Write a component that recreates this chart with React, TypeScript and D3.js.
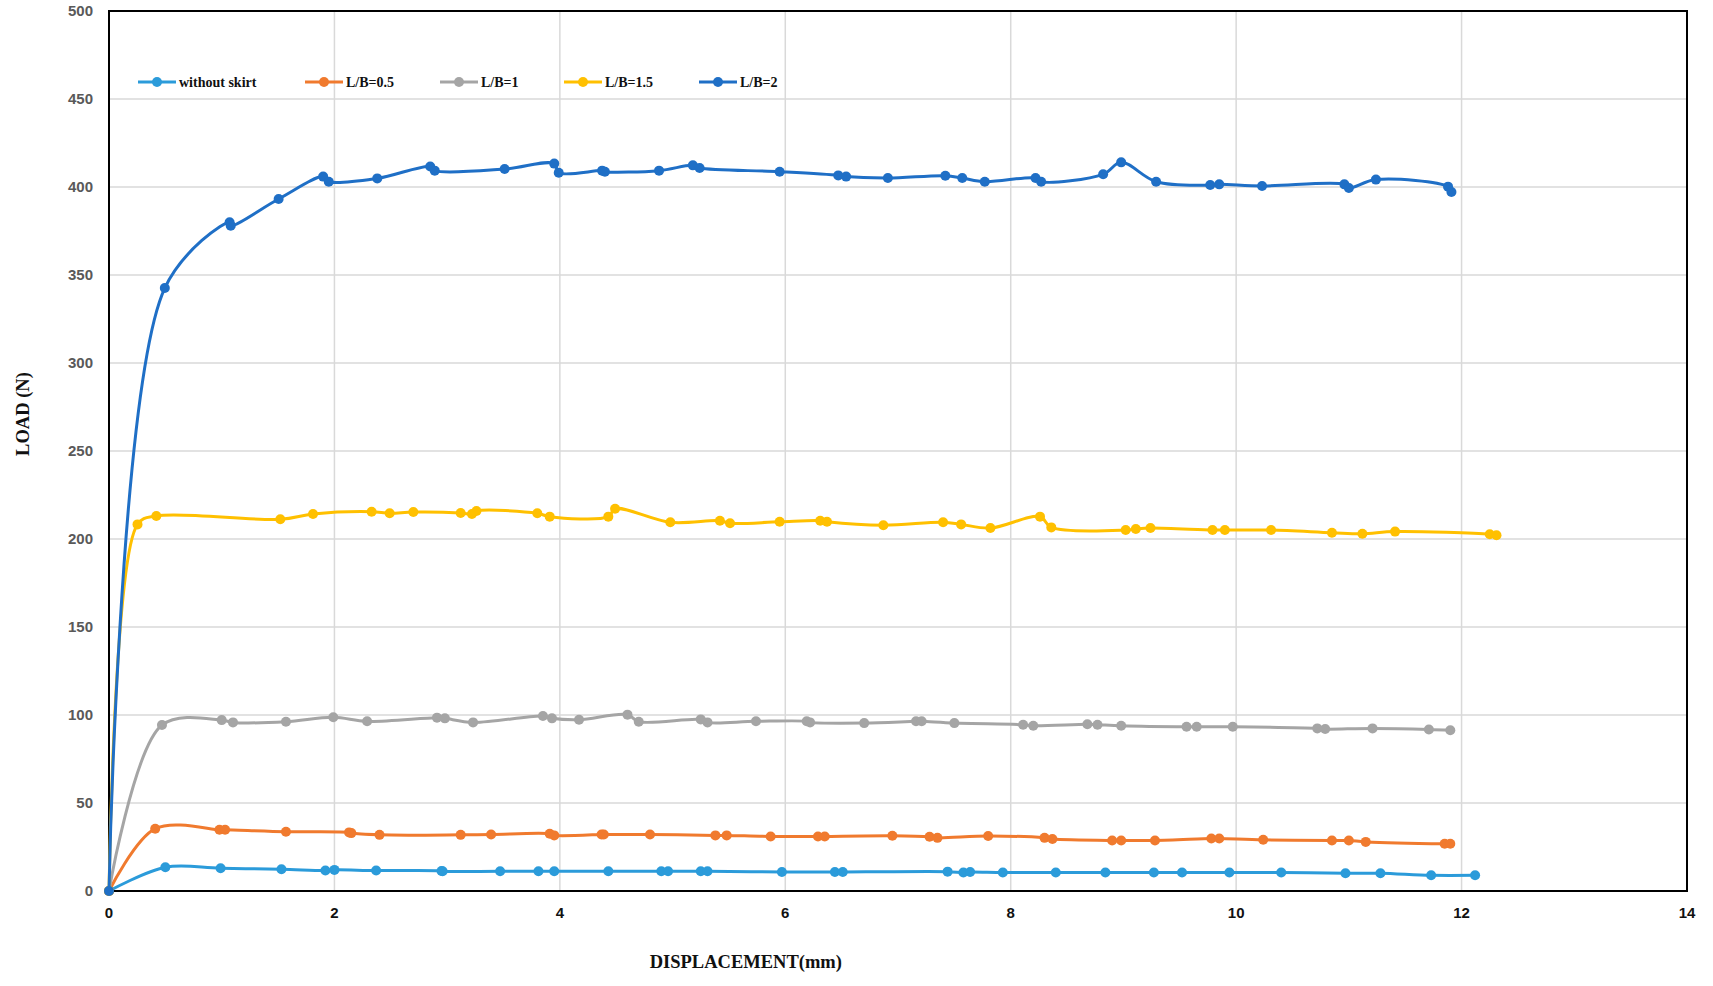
import React, { useEffect, useRef } from 'react';
import * as d3 from 'd3';

type Pt = [number, number];

// displacement (mm), load (N)
const withoutSkirt: Pt[] = [
    [0, 0], [0.5, 13.5], [0.99, 12.9], [1.53, 12.4], [1.92, 11.6], [2.0, 12.0], [2.37, 11.6], [2.95, 11.4],
    [2.96, 11.2], [3.47, 11.2], [3.81, 11.2], [3.95, 11.2], [4.43, 11.2], [4.9, 11.2], [4.96, 11.2], [5.25, 11.2],
    [5.31, 11.2], [5.97, 10.8], [6.44, 10.8], [6.51, 10.8], [7.44, 11.0], [7.58, 10.5], [7.64, 10.8], [7.93, 10.5],
    [8.4, 10.5], [8.84, 10.5], [9.27, 10.5], [9.52, 10.5], [9.94, 10.5], [10.4, 10.5], [10.97, 10.1], [11.28, 10.1],
    [11.73, 8.9], [12.12, 8.9],
];

const lb05: Pt[] = [
    [0, 0], [0.41, 35.4], [0.98, 34.8], [1.03, 34.8], [1.57, 33.7], [2.13, 33.3], [2.15, 32.9], [2.4, 31.9],
    [3.12, 31.9], [3.39, 32.1], [3.91, 32.5], [3.95, 31.6], [4.37, 32.1], [4.39, 32.1], [4.8, 32.1], [5.38, 31.6],
    [5.48, 31.6], [5.87, 31.0], [6.29, 31.0], [6.35, 31.0], [6.95, 31.4], [7.28, 30.8], [7.35, 30.2], [7.8, 31.2],
    [8.3, 30.2], [8.37, 29.5], [8.9, 28.7], [8.98, 28.7], [9.28, 28.7], [9.78, 29.8], [9.85, 29.8], [10.24, 29.1],
    [10.85, 28.7], [11.0, 28.7], [11.15, 27.9], [11.85, 26.8], [11.9, 26.8],
];

const lb1: Pt[] = [
    [0, 0], [0.47, 94.3], [1.0, 97.1], [1.1, 95.8], [1.57, 96.2], [1.99, 98.7], [2.29, 96.4], [2.91, 98.5],
    [2.98, 98.1], [3.23, 95.8], [3.85, 99.4], [3.93, 98.1], [4.17, 97.3], [4.6, 100.2], [4.7, 96.2], [5.25, 97.5],
    [5.31, 95.8], [5.74, 96.4], [6.19, 96.4], [6.22, 95.8], [6.7, 95.4], [7.16, 96.4], [7.21, 96.4], [7.5, 95.4],
    [8.11, 94.5], [8.2, 93.9], [8.68, 94.7], [8.77, 94.5], [8.98, 93.9], [9.56, 93.3], [9.65, 93.3], [9.97, 93.3],
    [10.72, 92.4], [10.79, 92.0], [11.21, 92.4], [11.71, 91.8], [11.9, 91.3],
];

const lb15: Pt[] = [
    [0, 0], [0.253, 208.3], [0.42, 213.1], [1.52, 211.2], [1.81, 214.2], [2.33, 215.5], [2.49, 214.6], [2.7, 215.3],
    [3.12, 214.8], [3.22, 214.2], [3.26, 215.9], [3.8, 214.6], [3.91, 212.7], [4.43, 212.7], [4.49, 217.2], [4.98, 209.5],
    [5.42, 210.4], [5.51, 208.9], [5.95, 209.8], [6.31, 210.4], [6.37, 209.8], [6.87, 207.8], [7.4, 209.5], [7.56, 208.3],
    [7.82, 206.2], [8.26, 212.7], [8.36, 206.6], [9.02, 205.1], [9.11, 205.7], [9.24, 206.2], [9.79, 205.1], [9.9, 205.1],
    [10.31, 205.1], [10.85, 203.6], [11.12, 203.0], [11.41, 204.2], [12.25, 202.7], [12.31, 202.1],
];

const lb2: Pt[] = [
    [0, 0], [0.495, 342.6], [1.07, 380], [1.08, 378], [1.505, 393.2], [1.9, 405.9], [1.95, 403], [2.38, 404.9],
    [2.85, 411.6], [2.89, 409.3], [3.51, 410.2], [3.95, 413.3], [3.99, 408.1], [4.375, 409.3], [4.4, 408.7], [4.88, 409.3],
    [5.18, 412.3], [5.24, 410.8], [5.95, 408.7], [6.47, 406.6], [6.54, 405.9], [6.91, 405.1], [7.42, 406.4], [7.57, 405.1],
    [7.77, 403], [8.22, 405.1], [8.27, 403], [8.82, 407.2], [8.98, 414], [9.29, 403], [9.77, 401.1], [9.85, 401.5],
    [10.23, 400.6], [10.96, 401.5], [11.0, 399.4], [11.24, 404.2], [11.88, 400.2], [11.91, 397.2],
];

const seriesNames = ['without skirt', 'L/B=0.5', 'L/B=1', 'L/B=1.5', 'L/B=2'];
const seriesData = [withoutSkirt, lb05, lb1, lb15, lb2];
const seriesColors = ['#2B9BDA', '#F07A2E', '#A5A5A5', '#FFC000', '#1F6FC6'];

const xTicks = [0, 2, 4, 6, 8, 10, 12, 14];
const yTicks = [0, 50, 100, 150, 200, 250, 300, 350, 400, 450, 500];

const W = 1713;
const H = 986;

export default function App() {
    const svgRef = useRef<SVGSVGElement>(null);

    useEffect(() => {
        if (!svgRef.current) return;
        const svg = d3.select(svgRef.current);
        svg.selectAll("*").remove();

        const margin = { top: 11, right: 26, bottom: 95, left: 109 };
        const width = W - margin.left - margin.right;
        const height = H - margin.top - margin.bottom;

        const g = svg.append("g")
            .attr("transform", `translate(${margin.left},${margin.top})`);

        const x = d3.scaleLinear().domain([0, 14]).range([0, width]);
        const y = d3.scaleLinear().domain([0, 500]).range([height, 0]);

        // grid
        g.append("g")
            .selectAll("line")
            .data(xTicks.slice(1, -1))
            .join("line")
            .attr("x1", d => x(d)).attr("x2", d => x(d))
            .attr("y1", 0).attr("y2", height)
            .attr("stroke", "#D9D9D9")
            .attr("stroke-width", 1.5);

        g.append("g")
            .selectAll("line")
            .data(yTicks.slice(1, -1))
            .join("line")
            .attr("x1", 0).attr("x2", width)
            .attr("y1", d => y(d)).attr("y2", d => y(d))
            .attr("stroke", "#D9D9D9")
            .attr("stroke-width", 1.5);

        // frame
        g.append("rect")
            .attr("width", width)
            .attr("height", height)
            .attr("fill", "none")
            .attr("stroke", "#000")
            .attr("stroke-width", 2);

        // tick labels
        g.append("g")
            .selectAll("text")
            .data(xTicks)
            .join("text")
            .attr("x", d => x(d))
            .attr("y", height + 27)
            .attr("text-anchor", "middle")
            .style("font-family", "'Liberation Sans', Arial, sans-serif")
            .style("font-size", "15px")
            .style("font-weight", "bold")
            .style("fill", "#111")
            .text(d => d);

        g.append("g")
            .selectAll("text")
            .data(yTicks)
            .join("text")
            .attr("x", -16)
            .attr("y", d => y(d) + 5)
            .attr("text-anchor", "end")
            .style("font-family", "'Liberation Sans', Arial, sans-serif")
            .style("font-size", "15px")
            .style("font-weight", "bold")
            .style("fill", "#595959")
            .text(d => d);

        // series
        const line = d3.line<Pt>()
            .x(d => x(d[0]))
            .y(d => y(d[1]))
            .curve(d3.curveCatmullRom.alpha(0.5));

        seriesData.forEach((data, i) => {
            const sg = g.append("g");
            sg.append("path")
                .datum(data)
                .attr("d", line)
                .attr("fill", "none")
                .attr("stroke", seriesColors[i])
                .attr("stroke-width", 3)
                .attr("stroke-linejoin", "round");
            sg.selectAll("circle")
                .data(data)
                .join("circle")
                .attr("cx", d => x(d[0]))
                .attr("cy", d => y(d[1]))
                .attr("r", 5)
                .attr("fill", seriesColors[i]);
        });

        // legend
        const legendX = [138, 305, 440, 564, 699];
        const legendY = 82;
        const lg = svg.append("g");
        seriesNames.forEach((name, i) => {
            const item = lg.append("g").attr("transform", `translate(${legendX[i]},${legendY})`);
            item.append("line")
                .attr("x1", 0).attr("x2", 38)
                .attr("stroke", seriesColors[i])
                .attr("stroke-width", 3);
            item.append("circle")
                .attr("cx", 19)
                .attr("r", 5)
                .attr("fill", seriesColors[i]);
            item.append("text")
                .attr("x", 41)
                .attr("y", 5)
                .style("font-family", "'Liberation Serif', 'Times New Roman', serif")
                .style("font-size", "14px")
                .style("font-weight", "bold")
                .style("fill", "#111")
                .text(name);
        });

        // axis titles
        svg.append("text")
            .attr("x", margin.left + x(5.65))
            .attr("y", 968)
            .attr("text-anchor", "middle")
            .style("font-family", "'Liberation Serif', 'Times New Roman', serif")
            .style("font-size", "18.5px")
            .style("font-weight", "bold")
            .style("fill", "#111")
            .text("DISPLACEMENT(mm)");

        svg.append("text")
            .attr("transform", `translate(29,414) rotate(-90)`)
            .attr("text-anchor", "middle")
            .style("font-family", "'Liberation Serif', 'Times New Roman', serif")
            .style("font-size", "18.5px")
            .style("font-weight", "bold")
            .style("fill", "#111")
            .text("LOAD (N)");
    }, []);

    return (
        <div style={{ position: 'absolute', left: 0, top: 0, background: '#fff' }}>
            <svg ref={svgRef} width={W} height={H} style={{ display: 'block' }} />
        </div>
    );
}
